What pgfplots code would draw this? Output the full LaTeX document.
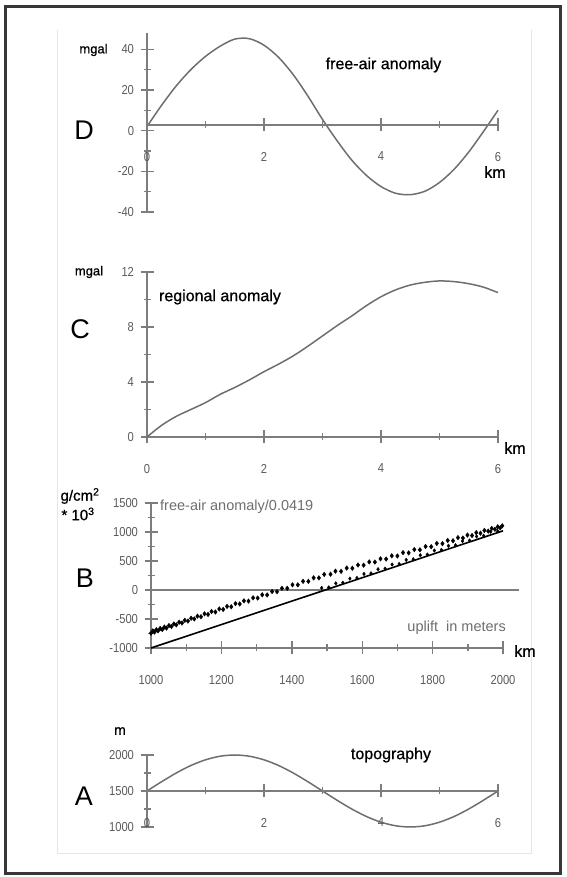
\documentclass[border=0pt]{standalone}
\usepackage{fontspec}
\setmainfont{Liberation Sans}
\newfontfamily\ticksfont[FakeStretch=0.86]{Liberation Sans}
\newfontfamily\labfont[FakeBold=0.8]{Liberation Sans}
\usepackage{pgfplots}
\pgfplotsset{compat=1.18}

\definecolor{axg}{RGB}{125,125,125}
\definecolor{curveg}{RGB}{110,110,110}
\definecolor{tickg}{RGB}{90,90,90}
\definecolor{frameg}{RGB}{55,55,55}

\pgfplotsset{
  panel/.style={scale only axis, clip=false, anchor=south west,
    tick align=outside,
    major tick length=13pt, minor tick length=7pt,
    ticklabel style={font=\fontsize{13}{13}\ticksfont, text=tickg},
    xticklabel style={yshift=-17pt},
    yticklabel style={xshift=-3pt},
    /pgf/number format/assume math mode=true,
    /pgf/number format/1000 sep={}},
  plain lines/.style={axis line style={-, axg, line width=1.7pt},
    tick style={axg, line width=1.4pt}},
  yonly/.style={panel, axis y line=left, axis x line=none, xtick=\empty, plain lines},
  xonly/.style={panel, axis x line=bottom, axis y line=none, ytick=\empty,
    height=10pt, ymin=0, ymax=1, plain lines},
  both/.style={panel, axis lines=left, plain lines},
  crv/.style={curveg, line width=1.5pt, smooth},
}

\begin{document}
\begin{tikzpicture}
\useasboundingbox (0pt,0pt) rectangle (566pt,877pt);
\draw[frameg, line width=3pt] (5pt,870pt) rectangle (560pt,3pt);
\draw[black!10, line width=1pt] (57pt,847pt) -- (57pt,23pt) -- (531pt,23pt) -- (531pt,847pt);

% D: free-air anomaly
\begin{axis}[yonly, at={(147pt,665pt)}, width=351pt, height=179pt,
  xmin=0, xmax=6, ymin=-40, ymax=48,
  ytick={-40,-20,0,20,40}, minor ytick={-30,-10,10,30}]
\addplot[crv] coordinates {
  (0,2) (0.25,12.5) (0.5,22) (0.75,30) (1.0,36.5) (1.25,41.5) (1.5,45) (1.75,45.2)
  (2.0,42) (2.25,36) (2.5,27.5) (2.75,17) (3.0,5.5) (3.25,-5) (3.5,-14.5) (3.75,-22)
  (4.0,-27.5) (4.25,-30.8) (4.5,-31.5) (4.75,-29.8) (5.0,-25.5) (5.25,-19) (5.5,-10.5)
  (5.75,-0.5) (6.0,10)};
\end{axis}
\begin{axis}[xonly, at={(147pt,752pt)}, width=351pt,
  xmin=0, xmax=6, xtick={0,2,4,6}, minor xtick={1,3,5}]
\end{axis}

% C: regional anomaly
\begin{axis}[both, at={(147pt,440pt)},
  width=351pt, height=165pt, xmin=0, xmax=6, ymin=0, ymax=12,
  xtick={0,2,4,6}, minor xtick={1,3,5}, ytick={0,4,8,12}, minor ytick={2,6,10}]
\addplot[crv] coordinates {
  (0,0) (0.25,0.85) (0.5,1.5) (0.75,2.0) (1.0,2.5) (1.25,3.1) (1.5,3.6)
  (1.75,4.15) (2.0,4.75) (2.25,5.3) (2.5,5.9) (2.75,6.6) (3.0,7.35) (3.25,8.1)
  (3.5,8.8) (3.75,9.55) (4.0,10.2) (4.25,10.7) (4.5,11.05) (4.75,11.25)
  (5.0,11.35) (5.25,11.3) (5.5,11.15) (5.75,10.9) (6.0,10.5)};
\end{axis}

% B: free-air anomaly / 0.0419 and uplift
\begin{axis}[both, at={(151pt,229pt)},
  width=352pt, height=145pt, xmin=1000, xmax=2000, ymin=-1000, ymax=1500,
  xtick={1000,1200,...,2000}, minor xtick={1100,1300,...,1900},
  ytick={-1000,-500,...,1500}, minor ytick={-750,-250,250,750,1250}]
\addplot[axg, line width=1.6pt] coordinates {(1020,0) (2045,0)};
\addplot[black, line width=1.6pt] coordinates {(1000,-1000) (2000,1020)};
\addplot[only marks, mark=diamond*, mark size=2.3pt, black] coordinates {
  (1000,-745) (1005,-705) (1010,-725) (1015,-685) (1020,-705) (1026,-663)
  (1032,-681) (1038,-639) (1044,-657) (1051,-613) (1058,-629) (1065,-585)
  (1072,-601) (1080,-555) (1088,-569) (1096,-523) (1105,-535) (1114,-487)
  (1123,-499) (1132,-451) (1142,-461) (1152,-411) (1162,-421) (1172,-371)
  (1183,-379) (1194,-327) (1205,-335) (1216,-283) (1228,-289) (1240,-235)
  (1252,-241) (1264,-187) (1277,-191) (1290,-135) (1303,-139) (1316,-83)
  (1330,-85) (1344,-27) (1358,-29) (1372,29) (1387,29) (1402,89) (1417,89)
  (1432,149) (1447,149) (1462,209) (1477,209) (1492,269)
  (1510,272) (1524,325) (1540,321) (1556,378) (1572,375) (1588,431) (1604,428)
  (1620,484) (1636,481) (1652,537) (1668,534) (1684,590) (1700,587) (1716,644)
  (1732,640) (1748,697) (1764,693) (1780,750) (1796,746) (1812,803) (1828,799)
  (1843,854) (1858,849) (1872,903) (1886,896) (1899,947) (1912,939) (1924,989)
  (1936,979) (1947,1027) (1958,1015) (1968,1062) (1977,1047) (1985,1090)
  (1992,1072) (1998,1107)};
\addplot[only marks, mark=diamond*, mark size=1.8pt, black] coordinates {
  (1485,35) (1505,45) (1525,115) (1545,126) (1565,196) (1585,207) (1605,277)
  (1625,287) (1645,358) (1665,368) (1685,439) (1705,449) (1725,519) (1745,530)
  (1765,600) (1785,611) (1805,681) (1825,691) (1845,762) (1865,772) (1885,843)
  (1905,853) (1925,923) (1945,934) (1965,1004) (1985,1015)};
\end{axis}

% A: topography
\begin{axis}[yonly, at={(147pt,50pt)}, width=351pt, height=72pt,
  xmin=0, xmax=6, ymin=1000, ymax=2000,
  ytick={1000,1500,2000}, minor ytick={1250,1750}]
\addplot[crv] coordinates {
  (0,1500) (0.25,1629) (0.5,1750) (0.75,1854) (1.0,1933) (1.25,1983) (1.5,2000)
  (1.75,1983) (2.0,1933) (2.25,1854) (2.5,1750) (2.75,1629) (3.0,1500)
  (3.25,1371) (3.5,1250) (3.75,1146) (4.0,1067) (4.25,1017) (4.5,1000)
  (4.75,1017) (5.0,1067) (5.25,1146) (5.5,1250) (5.75,1371) (6.0,1500)};
\end{axis}
\begin{axis}[xonly, at={(147pt,86pt)}, width=351pt,
  xmin=0, xmax=6, xtick={0,2,4,6}, minor xtick={1,3,5}]
\end{axis}

% panel letters and labels
\begin{scope}[every node/.style={inner sep=0pt}]
\node[font=\fontsize{27}{27}\selectfont] at (84pt,747pt) {D};
\node[font=\fontsize{27}{27}\selectfont] at (80pt,548pt) {C};
\node[font=\fontsize{27}{27}\selectfont] at (85pt,299pt) {B};
\node[font=\fontsize{27}{27}\selectfont] at (84pt,81pt) {A};
\node[font=\fontsize{13}{13}\labfont] at (93.5pt,827pt) {mgal};
\node[font=\fontsize{13}{13}\labfont] at (89pt,605pt) {mgal};
\node[font=\fontsize{14}{14}\labfont] at (120pt,146pt) {m};
\node[font=\fontsize{15}{15}\labfont] at (80pt,381pt) {g/cm\textsuperscript{2}};
\node[font=\fontsize{15}{15}\labfont] at (78pt,363pt) {* 10\textsuperscript{3}};
\node[font=\fontsize{16}{16}\labfont] at (495pt,705pt) {km};
\node[font=\fontsize{16}{16}\labfont] at (515pt,429pt) {km};
\node[font=\fontsize{16}{16}\labfont] at (525pt,226pt) {km};
\node[font=\fontsize{16}{16}\labfont] at (383.5pt,812pt) {free-air anomaly};
\node[font=\fontsize{16}{16}\labfont] at (220pt,580pt) {regional anomaly};
\node[font=\fontsize{16}{16}\labfont] at (391pt,122pt) {topography};
\node[font=\fontsize{14.5}{14.5}\selectfont, text=curveg, anchor=west] at (160pt,370pt) {free-air anomaly/0.0419};
\node[font=\fontsize{14.5}{14.5}\selectfont, text=curveg, anchor=east] at (506pt,249pt) {uplift\ \ in meters};
\end{scope}
\end{tikzpicture}
\end{document}
